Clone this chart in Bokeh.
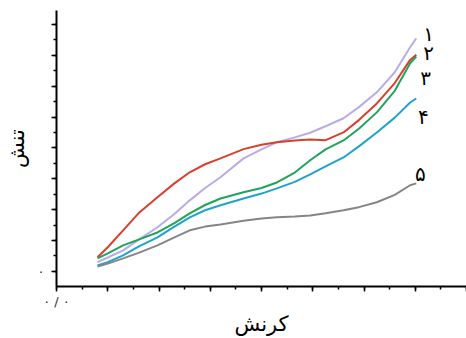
from bokeh.plotting import figure
from bokeh.models import Range1d, SingleIntervalTicker
from bokeh.core.properties import value
from bokeh.embed import file_html
from bokeh.resources import INLINE

# strain values (x) shared by all curves
strain = [0.8, 1.0, 1.3, 1.6, 1.97, 2.3, 2.6, 2.9, 3.2, 3.65, 4.0, 4.3, 4.65,
          4.95, 5.25, 5.6, 5.9, 6.25, 6.6, 6.9, 7.02]

stress_1 = [0.30, 0.45, 0.68, 1.02, 1.43, 1.86, 2.30, 2.70, 3.05, 3.66, 3.95, 4.18, 4.34,
            4.49, 4.70, 4.96, 5.32, 5.80, 6.45, 7.26, 7.55]
stress_2 = [0.46, 0.78, 1.33, 1.88, 2.40, 2.85, 3.21, 3.47, 3.66, 3.96, 4.10, 4.18, 4.24,
            4.27, 4.25, 4.50, 4.90, 5.44, 6.10, 6.85, 7.02]
stress_3 = [0.42, 0.58, 0.84, 1.03, 1.26, 1.56, 1.88, 2.15, 2.36, 2.56, 2.70, 2.88, 3.20,
            3.60, 3.95, 4.24, 4.62, 5.15, 5.85, 6.74, 6.96]
stress_4 = [0.19, 0.30, 0.52, 0.80, 1.10, 1.45, 1.75, 1.98, 2.14, 2.36, 2.52, 2.69, 2.90,
            3.14, 3.40, 3.69, 4.05, 4.50, 4.98, 5.47, 5.60]
stress_5 = [0.16, 0.25, 0.42, 0.60, 0.84, 1.10, 1.33, 1.45, 1.52, 1.64, 1.71, 1.75, 1.78,
            1.81, 1.88, 1.98, 2.08, 2.24, 2.48, 2.79, 2.85]

series_labels = ["۱", "۲", "۳", "۴", "۵"]
colors = ["#b9abe6", "#d8402c", "#20a35b", "#1ea3cf", "#858585"]

x_tick_label_zero = "۰ / ۰"
y_tick_label_zero = "۰"
x_title = "کرنش"
y_title = "تنش"

FONT = "DejaVu Sans"

p = figure(frame_width=410, frame_height=276, output_backend="svg", toolbar_location=None,
           x_range=Range1d(0, 8.0), y_range=Range1d(-0.49, 8.45),
           min_border_left=56, min_border_right=0, min_border_top=10,
           min_border_bottom=52)
p.outline_line_color = None
p.grid.visible = False
p.background_fill_color = "white"
p.border_fill_color = "white"

for ys, c in zip([stress_1, stress_2, stress_3, stress_4, stress_5], colors):
    p.line(strain, ys, line_color=c, line_width=2)

# curve number labels
label_x = [7.26, 7.26, 7.2, 7.16, 7.1]
label_y = [7.68, 7.06, 6.25, 4.99, 3.17]
p.text(x=label_x, y=label_y, text=series_labels, text_font=value(FONT),
       text_font_size="20px", text_color="black", text_align="center",
       text_baseline="middle")

for ax in (p.xaxis[0], p.yaxis[0]):
    ax.ticker = SingleIntervalTicker(interval=1, num_minor_ticks=2)
    ax.axis_line_color = "black"
    ax.axis_line_width = 2
    ax.major_tick_line_color = "black"
    ax.major_tick_line_width = 1.5
    ax.minor_tick_line_color = "black"
    ax.minor_tick_line_width = 1.5
    ax.major_tick_in = 0
    ax.major_tick_out = 5
    ax.minor_tick_in = 0
    ax.minor_tick_out = 3
    ax.major_label_text_font = FONT
    ax.major_label_text_font_size = "13px"
    ax.major_label_text_color = "#333333"
    ax.axis_label_text_font = FONT
    ax.axis_label_text_font_size = "21px"
    ax.axis_label_text_font_style = "normal"
    ax.axis_label_text_color = "black"

p.xaxis[0].major_label_overrides = {i: "" for i in range(1, 9)} | {0: x_tick_label_zero}
p.yaxis[0].major_label_overrides = {i: "" for i in range(1, 9)} | {0: y_tick_label_zero}
p.xaxis[0].axis_label = x_title
p.yaxis[0].axis_label = y_title
p.xaxis[0].major_label_standoff = 2
p.xaxis[0].axis_label_standoff = 0
p.yaxis[0].major_label_standoff = 7
p.yaxis[0].axis_label_standoff = 6

open("out.html", "w").write(file_html(p, INLINE))
